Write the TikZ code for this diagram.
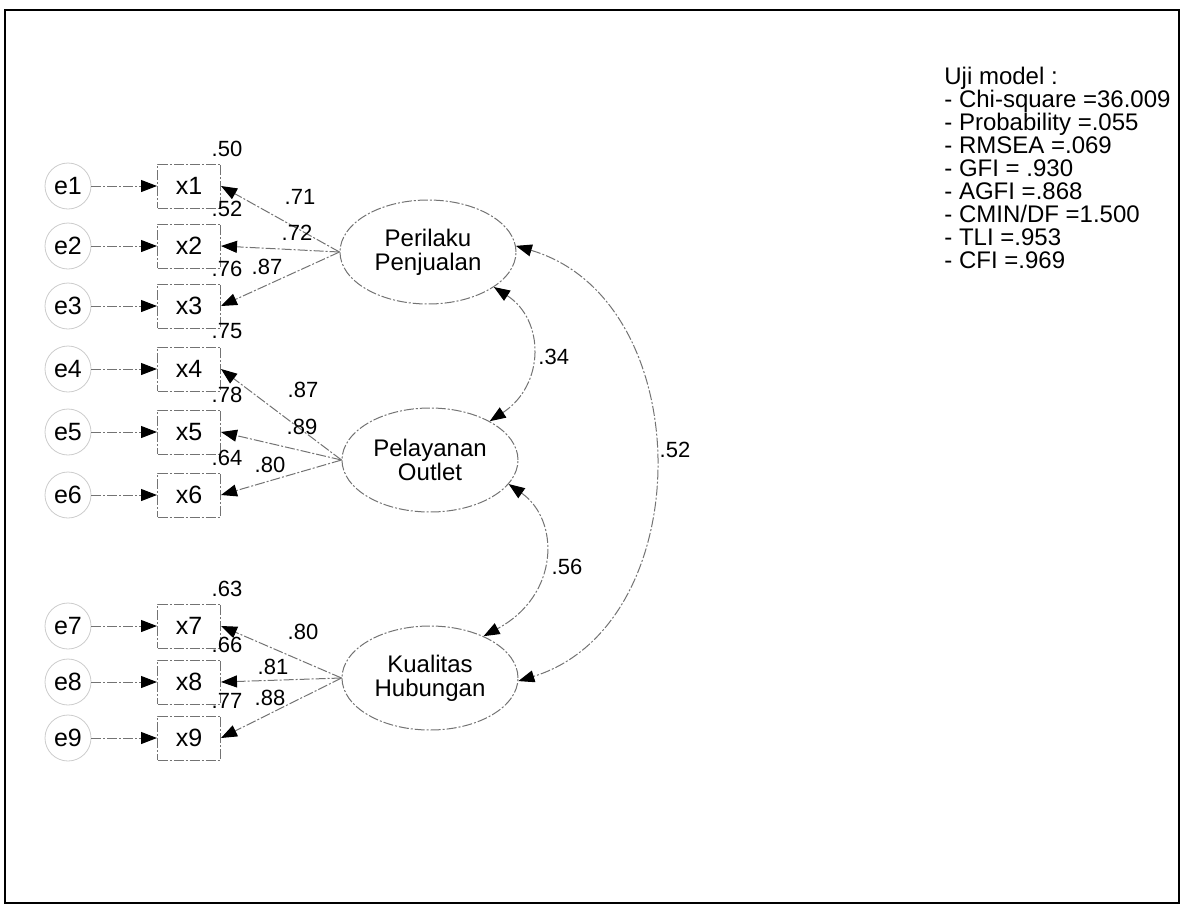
\documentclass[tikz,border=0pt]{standalone}
\usepackage{fontspec}
\setmainfont{Liberation Sans}
\usetikzlibrary{arrows.meta,shapes.geometric}

\begin{document}
\begin{tikzpicture}[x=0.5pt, y=-0.5pt, >={Triangle[length=8pt,width=6pt,color=black]},
  faded/.style={draw=black!55, line width=0.5pt, dash pattern=on 5pt off 1pt on 1pt off 1pt},
  obs/.style={faded, rectangle, minimum width=31.5pt, minimum height=22pt, inner sep=0pt, font=\fontsize{12.5}{14}\selectfont},
  err/.style={circle, draw=black!20, line width=0.4pt, minimum size=23pt, inner sep=0pt, font=\fontsize{12.5}{14}\selectfont},
  lat/.style={faded, ellipse, minimum width=88pt, minimum height=52pt, inner sep=0pt, align=center, font=\fontsize{12}{12}\selectfont},
  est/.style={font=\fontsize{11}{12}\selectfont, inner sep=0pt}]
  \useasboundingbox (0,0) rectangle (1184,911);
  \draw[line width=1pt] (5,10) rectangle (1179,903);

  % indicators and their errors
  \foreach \i/\y in {1/186,2/246,3/306,4/369,5/432,6/495,7/626,8/682,9/738}{
    \node[obs] (x\i) at (189,\y) {x\i};
    \node[err] (e\i) at (68,\y) {e\i};
    \draw[faded,->] (e\i) -- (x\i);
  }

  % latent variables
  \node[lat] (perilaku) at (428,252) {Perilaku\\Penjualan};
  \node[lat] (pelayanan) at (430,460) {Pelayanan\\Outlet};
  \node[lat] (kualitas) at (430,678) {Kualitas\\Hubungan};

  \foreach \i in {1,2,3} \draw[faded,->] (perilaku.west) -- (x\i.east);
  \foreach \i in {4,5,6} \draw[faded,->] (pelayanan.west) -- (x\i.east);
  \foreach \i in {7,8,9} \draw[faded,->] (kualitas.west) -- (x\i.east);

  % squared multiple correlations
  \foreach \i/\v in {1/.50,2/.52,3/.76,4/.75,5/.78,6/.64,7/.63,8/.66,9/.77}
    \node[est] (r\i) at ([shift={(38,-15)}]x\i.north) {\v};

  % loadings
  \foreach \i/\x/\y/\v in {1/300/197/.71,2/297/233/.72,3/267/267/.87,
                           4/303/390/.87,5/302/427/.89,6/270/465/.80,
                           7/303/632/.80,8/273/667/.81,9/270/698/.88}
    \node[est] (l\i) at (\x,\y) {\v};

  % correlations between latents
  \draw[faded,<->] (perilaku.-28) .. controls (545,320) and (545,385) .. (pelayanan.33);
  \draw[faded,<->] (pelayanan.-17) .. controls (560,520) and (560,595) .. (kualitas.38);
  \draw[faded,<->] (perilaku.4) .. controls (700,300) and (700,625) .. (kualitas.-2);
  \node[est,anchor=west] (c1) at (538,357) {.34};
  \node[est] (c2) at (567,567) {.56};
  \node[est] (c3) at (675,450) {.52};

  % fit indices
  \begin{scope}
    \clip (5,10) rectangle (1178,903);
    \node[anchor=north west, align=left, inner sep=0pt, font=\fontsize{12}{11.5}\selectfont] (uji) at (944,67)
      {Uji model :\\- Chi-square =36.009\\- Probability =.055\\- RMSEA =.069\\- GFI = .930\\- AGFI =.868\\- CMIN/DF =1.500\\- TLI =.953\\- CFI =.969};
  \end{scope}
\end{tikzpicture}
\end{document}
